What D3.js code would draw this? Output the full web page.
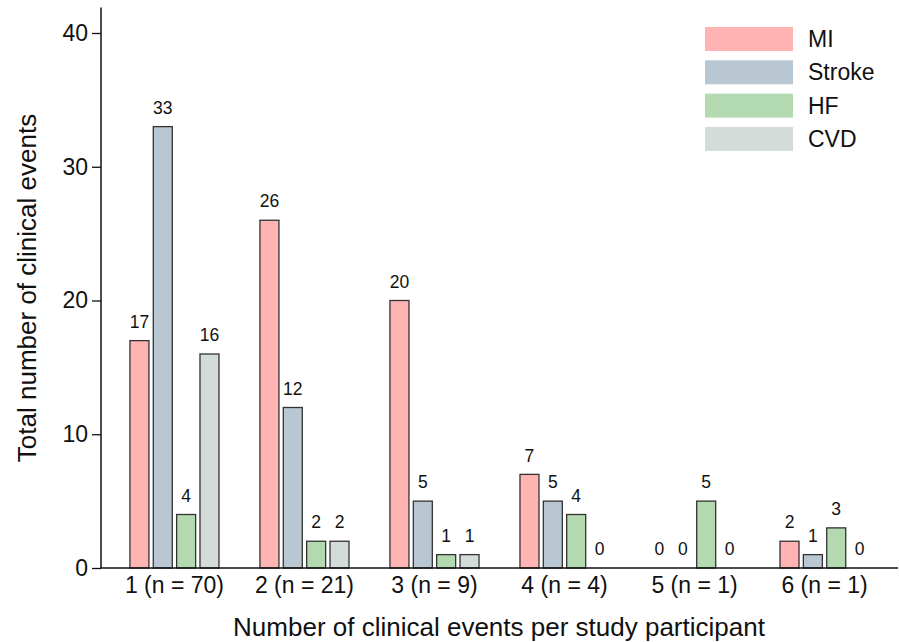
<!DOCTYPE html>
<html>
<head>
<meta charset="utf-8">
<script src="https://cdn.jsdelivr.net/npm/d3@7"></script>
<style>
  body { margin: 0; background: #fff; }
  svg { font-family: Arial, "Liberation Sans", sans-serif; }
</style>
</head>
<body>
<div id="chart"></div>
<script>
var categories = ['1 (n = 70)', '2 (n = 21)', '3 (n = 9)', '4 (n = 4)', '5 (n = 1)', '6 (n = 1)'];
var seriesNames = ['MI', 'Stroke', 'HF', 'CVD'];
var miValues = [17, 26, 20, 7, 0, 2];
var strokeValues = [33, 12, 5, 5, 0, 1];
var hfValues = [4, 2, 1, 4, 5, 3];
var cvdValues = [16, 2, 1, 0, 0, 0];
var yTicks = [0, 10, 20, 30, 40];

var seriesValues = [miValues, strokeValues, hfValues, cvdValues];
var colors = ['#ffb3b3', '#b9c7d3', '#b3d9b1', '#d3dcd9'];

var width = 899, height = 642;
var left = 101, right = 898, baseY = 568;

var svg = d3.select('#chart').append('svg')
    .attr('width', width)
    .attr('height', height);

var x = d3.scaleBand()
    .domain(categories)
    .range([left, right])
    .paddingInner(0.315)
    .paddingOuter(0.2225);

var xSub = d3.scaleBand()
    .domain(seriesNames)
    .range([0, x.bandwidth()])
    .paddingInner(0.186);

var y = d3.scaleLinear()
    .domain([0, 41.9])
    .range([baseY, baseY - 41.9 * 13.375]);

// rows for each category
var rows = categories.map(function (c, i) {
    return seriesNames.map(function (s, j) {
        return {cat: c, series: s, value: seriesValues[j][i], color: colors[j]};
    });
});

var groups = svg.selectAll('g.group')
    .data(rows)
    .enter()
    .append('g')
    .attr('class', 'group')
    .attr('transform', function (d, i) { return 'translate(' + x(categories[i]) + ',0)'; });

groups.selectAll('rect')
    .data(function (d) { return d.filter(function (e) { return e.value > 0; }); })
    .enter()
    .append('rect')
    .attr('x', function (d) { return xSub(d.series); })
    .attr('y', function (d) { return y(d.value); })
    .attr('width', xSub.bandwidth())
    .attr('height', function (d) { return y(0) - y(d.value); })
    .attr('fill', function (d) { return d.color; })
    .attr('stroke', '#333')
    .attr('stroke-width', 1.3);

groups.selectAll('text')
    .data(function (d) { return d; })
    .enter()
    .append('text')
    .attr('x', function (d) { return xSub(d.series) + xSub.bandwidth() / 2; })
    .attr('y', function (d) { return y(d.value) - 19; })
    .attr('text-anchor', 'middle')
    .attr('dy', '0.35em')
    .style('font-size', '17.5px')
    .style('fill', '#111')
    .text(function (d) { return d.value; });

// y axis
var yAxis = svg.append('g')
    .attr('transform', 'translate(' + left + ',0)')
    .call(d3.axisLeft(y).tickValues(yTicks).tickSize(9).tickPadding(4));
yAxis.select('.domain').attr('d', 'M0,' + y(41.9) + 'V' + baseY).attr('stroke', '#111').attr('stroke-width', 1.5);
yAxis.selectAll('.tick line').attr('stroke', '#111').attr('stroke-width', 1.3);
yAxis.selectAll('.tick text').style('font-size', '23px').style('fill', '#111').attr('font-family', null);

// x axis
var xAxis = svg.append('g')
    .attr('transform', 'translate(0,' + baseY + ')')
    .call(d3.axisBottom(x).tickSize(0).tickPadding(9));
xAxis.select('.domain').attr('d', 'M' + left + ',0H' + right).attr('stroke', '#111').attr('stroke-width', 1.5);
xAxis.selectAll('.tick text').style('font-size', '23px').style('fill', '#111').attr('font-family', null);

svg.append('text')
    .attr('x', 499)
    .attr('y', 636)
    .attr('text-anchor', 'middle')
    .style('font-size', '26px')
    .style('fill', '#111')
    .text('Number of clinical events per study participant');

svg.append('text')
    .attr('transform', 'translate(36,288) rotate(-90)')
    .attr('text-anchor', 'middle')
    .style('font-size', '26px')
    .style('fill', '#111')
    .text('Total number of clinical events');

// legend
var legend = svg.selectAll('g.legend')
    .data(seriesNames)
    .enter()
    .append('g')
    .attr('class', 'legend')
    .attr('transform', function (d, i) { return 'translate(705,' + (27 + i * 33.3) + ')'; });

legend.append('rect')
    .attr('width', 88)
    .attr('height', 24)
    .attr('fill', function (d, i) { return colors[i]; });

legend.append('text')
    .attr('x', 103)
    .attr('y', 12)
    .attr('dy', '0.35em')
    .style('font-size', '23px')
    .style('fill', '#111')
    .text(function (d) { return d; });
</script>
</body>
</html>
